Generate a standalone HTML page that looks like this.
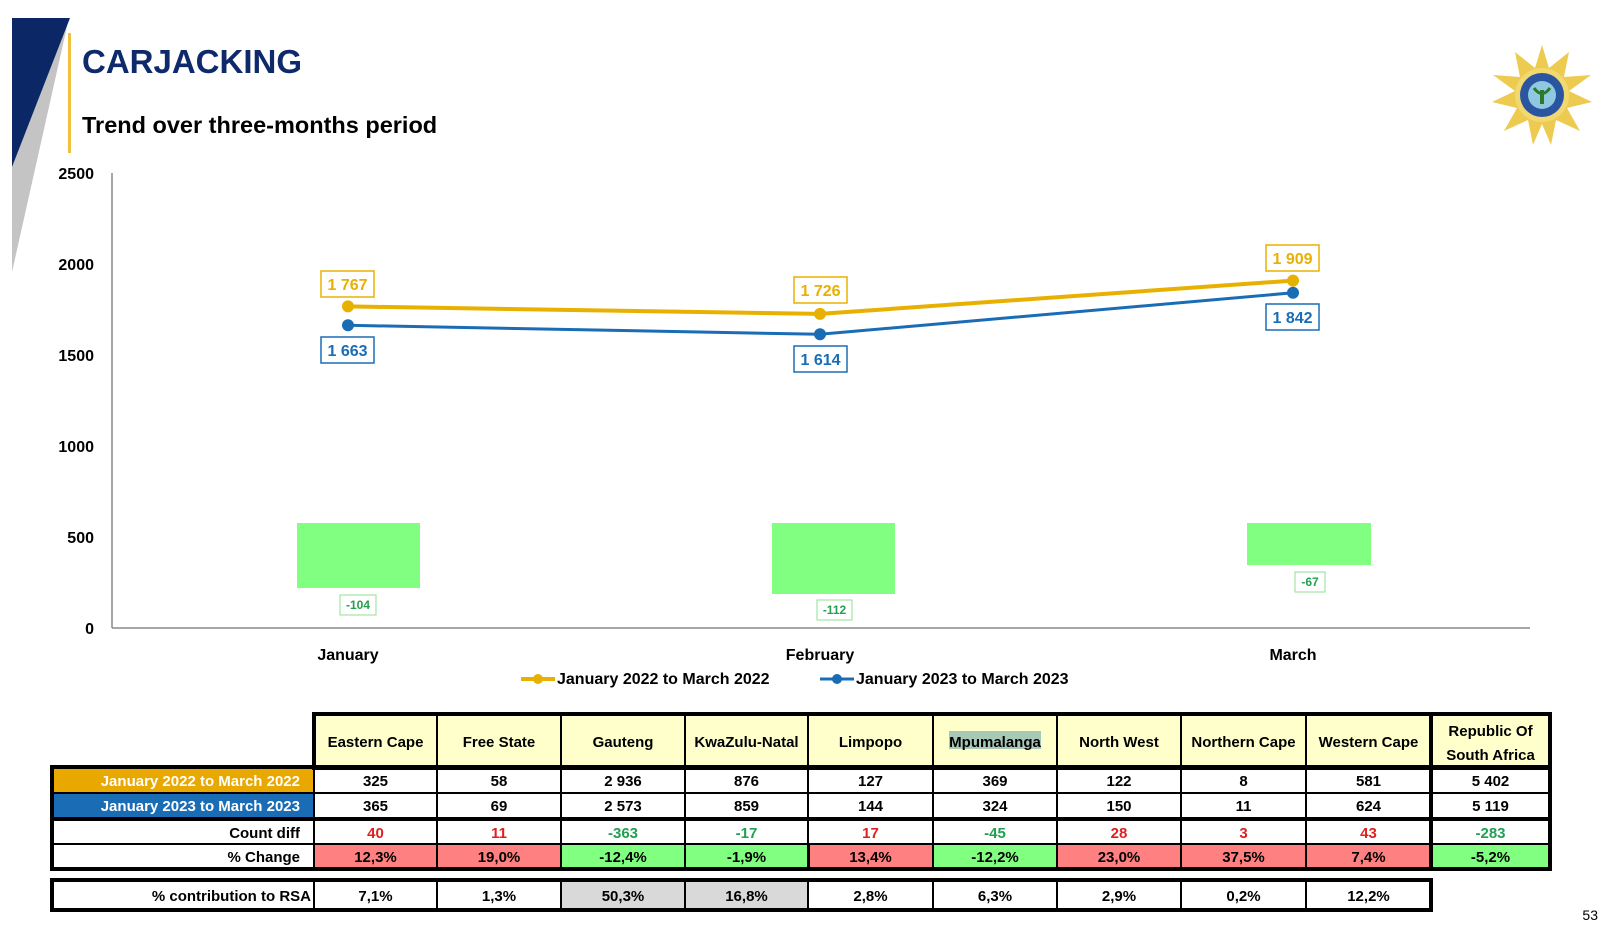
<!DOCTYPE html>
<html><head><meta charset="utf-8"><style>
html,body{margin:0;padding:0;background:#fff;}
svg{display:block;font-family:"Liberation Sans",sans-serif;}
</style></head><body>
<svg width="1602" height="929" viewBox="0 0 1602 929" xmlns="http://www.w3.org/2000/svg">
<polygon points="12,167 68,22 12,272" fill="#c4c4c4"/>
<polygon points="12,18 70,18 12,167" fill="#0b2766"/>
<rect x="68" y="33" width="3" height="120" fill="#f0c040"/>
<text x="82" y="73" font-size="33" font-weight="bold" fill="#0e2a6b">CARJACKING</text>
<text x="82" y="133" font-size="23.5" font-weight="bold" fill="#000">Trend over three-months period</text>

<g transform="translate(1542,95)">
<polygon fill="#eccb50" points="0,-50 7,-27 27,-43 22,-18 49,-20 27,-4 50,7 25,13 38,36 14,25 9,50 0,29 -9,50 -14,25 -38,36 -25,13 -50,7 -27,-4 -49,-20 -22,-18 -27,-43 -7,-27"/>
<circle r="27" fill="#f2d870"/>
<circle r="22" fill="#2a55a0"/>
<circle r="14" fill="#8fc8e0"/>
<rect x="-2" y="-5" width="4" height="14" fill="#2a7a2a"/>
<path d="M-8,-7 Q0,4 8,-7" stroke="#2a7a2a" stroke-width="3" fill="none"/>
</g>

<line x1="112" y1="173" x2="112" y2="628" stroke="#888" stroke-width="1.5"/>
<line x1="112" y1="628" x2="1530" y2="628" stroke="#888" stroke-width="1.5"/>
<g font-size="16" font-weight="bold" text-anchor="end" fill="#000">
<text x="94" y="179">2500</text>
<text x="94" y="270">2000</text>
<text x="94" y="361">1500</text>
<text x="94" y="452">1000</text>
<text x="94" y="543">500</text>
<text x="94" y="634">0</text>
</g>

<rect x="297" y="523" width="123" height="65" fill="#80ff80"/>
<rect x="772" y="523" width="123" height="71" fill="#80ff80"/>
<rect x="1247" y="523" width="124" height="42" fill="#80ff80"/>
<g font-size="12" font-weight="bold" fill="#20a050" text-anchor="middle">
<rect x="340" y="595" width="36" height="20" fill="#fff" stroke="#90e090"/><text x="358" y="609">-104</text>
<rect x="817" y="600" width="35" height="20" fill="#fff" stroke="#90e090"/><text x="834.5" y="614">-112</text>
<rect x="1295" y="572" width="30" height="20" fill="#fff" stroke="#90e090"/><text x="1310" y="586">-67</text>
</g>

<polyline points="348,306.4 820,313.9 1293,280.6" fill="none" stroke="#e8b000" stroke-width="4"/>
<polyline points="348,325.3 820,334.3 1293,292.8" fill="none" stroke="#1a6db5" stroke-width="3"/>
<g fill="#e8b000"><circle cx="348" cy="306.4" r="6"/><circle cx="820" cy="313.9" r="6"/><circle cx="1293" cy="280.6" r="6"/></g>
<g fill="#1a6db5"><circle cx="348" cy="325.3" r="6"/><circle cx="820" cy="334.3" r="6"/><circle cx="1293" cy="292.8" r="6"/></g>

<g font-size="16" font-weight="bold" text-anchor="middle">
<rect x="321" y="271" width="53" height="26" fill="#fff" stroke="#e8b000" stroke-width="1.5"/><text x="347.5" y="290" fill="#e8b000">1 767</text>
<rect x="794" y="277" width="53" height="26" fill="#fff" stroke="#e8b000" stroke-width="1.5"/><text x="820.5" y="296" fill="#e8b000">1 726</text>
<rect x="1266" y="245" width="53" height="26" fill="#fff" stroke="#e8b000" stroke-width="1.5"/><text x="1292.5" y="264" fill="#e8b000">1 909</text>
<rect x="321" y="337" width="53" height="26" fill="#fff" stroke="#1a6db5" stroke-width="1.5"/><text x="347.5" y="356" fill="#1a6db5">1 663</text>
<rect x="794" y="346" width="53" height="26" fill="#fff" stroke="#1a6db5" stroke-width="1.5"/><text x="820.5" y="365" fill="#1a6db5">1 614</text>
<rect x="1266" y="304" width="53" height="26" fill="#fff" stroke="#1a6db5" stroke-width="1.5"/><text x="1292.5" y="323" fill="#1a6db5">1 842</text>
</g>

<g font-size="16" font-weight="bold" fill="#000" text-anchor="middle">
<text x="348" y="660">January</text>
<text x="820" y="660">February</text>
<text x="1293" y="660">March</text>
</g>
<line x1="521" y1="679" x2="555" y2="679" stroke="#e8b000" stroke-width="4"/><circle cx="538" cy="679" r="5" fill="#e8b000"/>
<text x="557" y="684" font-size="16" font-weight="bold">January 2022 to March 2022</text>
<line x1="820" y1="679" x2="854" y2="679" stroke="#1a6db5" stroke-width="3"/><circle cx="837" cy="679" r="5" fill="#1a6db5"/>
<text x="856" y="684" font-size="16" font-weight="bold">January 2023 to March 2023</text>

<g stroke="#000" stroke-width="2">
<rect x="314" y="715" width="1236" height="53" fill="#ffffcc"/>
<rect x="53" y="768" width="1497" height="50" fill="#fff"/>
<rect x="53" y="768" width="261" height="25" fill="#e8a800"/>
<rect x="53" y="793" width="261" height="25" fill="#1a6db5"/>
<rect x="53" y="820" width="1497" height="48" fill="#fff"/>
<rect x="314" y="844" width="1117" height="24" fill="#ff8080"/>
<rect x="561" y="844" width="248" height="24" fill="#80ff80"/>
<rect x="933" y="844" width="124" height="24" fill="#80ff80"/>
<rect x="1431" y="844" width="119" height="24" fill="#80ff80"/>
<line x1="53" y1="793" x2="1550" y2="793"/>
<line x1="53" y1="844" x2="1550" y2="844"/>
<rect x="53" y="881" width="1378" height="28" fill="#fff"/>
<rect x="561" y="881" width="247" height="28" fill="#d9d9d9"/>
<line x1="314" y1="715" x2="314" y2="868"/><line x1="314" y1="881" x2="314" y2="909"/>
<line x1="437" y1="715" x2="437" y2="868"/><line x1="437" y1="881" x2="437" y2="909"/>
<line x1="561" y1="715" x2="561" y2="868"/><line x1="561" y1="881" x2="561" y2="909"/>
<line x1="685" y1="715" x2="685" y2="868"/><line x1="685" y1="881" x2="685" y2="909"/>
<line x1="808" y1="715" x2="808" y2="868"/><line x1="808" y1="881" x2="808" y2="909"/>
<line x1="933" y1="715" x2="933" y2="868"/><line x1="933" y1="881" x2="933" y2="909"/>
<line x1="1057" y1="715" x2="1057" y2="868"/><line x1="1057" y1="881" x2="1057" y2="909"/>
<line x1="1181" y1="715" x2="1181" y2="868"/><line x1="1181" y1="881" x2="1181" y2="909"/>
<line x1="1306" y1="715" x2="1306" y2="868"/><line x1="1306" y1="881" x2="1306" y2="909"/>
<line x1="1431" y1="715" x2="1431" y2="868" stroke-width="4"/>
</g>
<g fill="none" stroke="#000" stroke-width="4">
<rect x="314" y="714" width="1236" height="54"/>
<rect x="52" y="767" width="1498" height="52"/>
<rect x="52" y="819" width="1498" height="50"/>
<rect x="52" y="880" width="1379" height="30"/>
</g>
<rect x="949" y="731" width="92" height="18" fill="#a8c8b8"/>
<g font-size="15" font-weight="bold" text-anchor="middle" fill="#000">
<text x="375.5" y="747">Eastern Cape</text><text x="499" y="747">Free State</text><text x="623" y="747">Gauteng</text><text x="746.5" y="747">KwaZulu-Natal</text><text x="870.5" y="747">Limpopo</text><text x="995" y="747">Mpumalanga</text><text x="1119" y="747">North West</text><text x="1243.5" y="747">Northern Cape</text><text x="1368.5" y="747">Western Cape</text>
<text x="1490.5" y="736">Republic Of</text><text x="1490.5" y="760">South Africa</text>
<text x="375.5" y="786">325</text><text x="499" y="786">58</text><text x="623" y="786">2 936</text><text x="746.5" y="786">876</text><text x="870.5" y="786">127</text><text x="995" y="786">369</text><text x="1119" y="786">122</text><text x="1243.5" y="786">8</text><text x="1368.5" y="786">581</text><text x="1490.5" y="786">5 402</text>
<text x="375.5" y="811">365</text><text x="499" y="811">69</text><text x="623" y="811">2 573</text><text x="746.5" y="811">859</text><text x="870.5" y="811">144</text><text x="995" y="811">324</text><text x="1119" y="811">150</text><text x="1243.5" y="811">11</text><text x="1368.5" y="811">624</text><text x="1490.5" y="811">5 119</text>
<text x="375.5" y="862">12,3%</text><text x="499" y="862">19,0%</text><text x="623" y="862">-12,4%</text><text x="746.5" y="862">-1,9%</text><text x="870.5" y="862">13,4%</text><text x="995" y="862">-12,2%</text><text x="1119" y="862">23,0%</text><text x="1243.5" y="862">37,5%</text><text x="1368.5" y="862">7,4%</text><text x="1490.5" y="862">-5,2%</text>
<text x="375.5" y="901">7,1%</text><text x="499" y="901">1,3%</text><text x="623" y="901">50,3%</text><text x="746.5" y="901">16,8%</text><text x="870.5" y="901">2,8%</text><text x="995" y="901">6,3%</text><text x="1119" y="901">2,9%</text><text x="1243.5" y="901">0,2%</text><text x="1368.5" y="901">12,2%</text>
</g>
<g font-size="15" font-weight="bold" text-anchor="middle">
<text x="375.5" y="838" fill="#e02020">40</text><text x="499" y="838" fill="#e02020">11</text><text x="623" y="838" fill="#20a050">-363</text><text x="746.5" y="838" fill="#20a050">-17</text><text x="870.5" y="838" fill="#e02020">17</text><text x="995" y="838" fill="#20a050">-45</text><text x="1119" y="838" fill="#e02020">28</text><text x="1243.5" y="838" fill="#e02020">3</text><text x="1368.5" y="838" fill="#e02020">43</text><text x="1490.5" y="838" fill="#20a050">-283</text>
</g>
<g font-size="15" font-weight="bold" text-anchor="end">
<text x="300" y="786" fill="#fff">January 2022 to March 2022</text>
<text x="300" y="811" fill="#fff">January 2023 to March 2023</text>
<text x="300" y="838" fill="#000">Count diff</text>
<text x="300" y="862" fill="#000">% Change</text>
<text x="311" y="901" fill="#000">% contribution to RSA</text>
</g>
<text x="1598" y="920" font-size="14" text-anchor="end" fill="#000">53</text>
</svg>
</body></html>
